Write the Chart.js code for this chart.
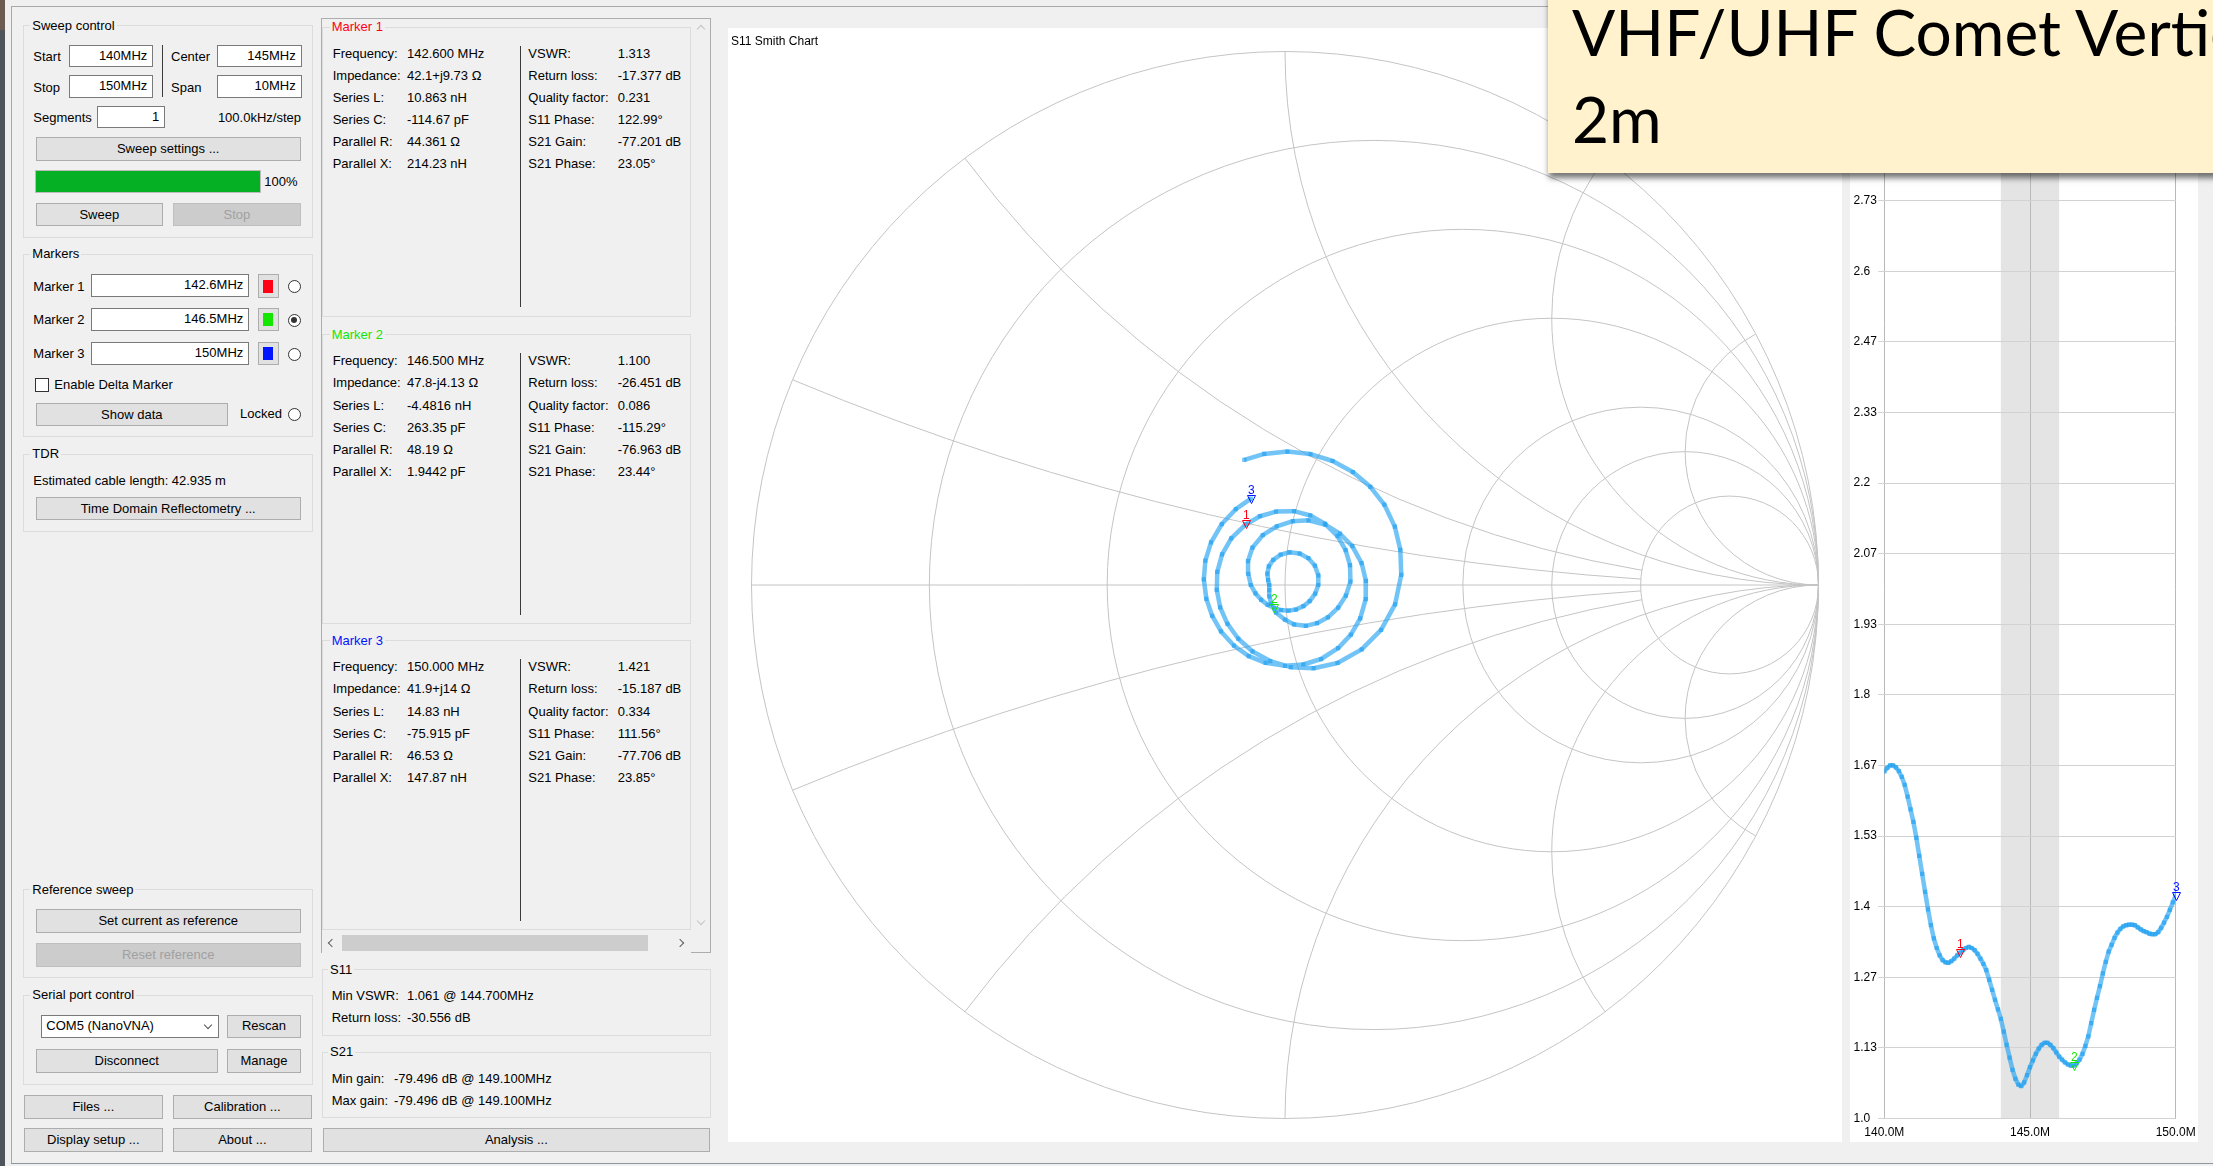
<!DOCTYPE html>
<html>
<head>
<meta charset="utf-8">
<title>NanoVNA-Saver</title>
<script src="https://cdn.jsdelivr.net/npm/chart.js@4.4.0/dist/chart.umd.min.js"></script>
<style>
  html, body { margin: 0; padding: 0; }
  body {
    position: relative; width: 2213px; height: 1166px; overflow: hidden;
    background: #f0f0f0; color: #000;
    font-family: "Liberation Sans", Arial, sans-serif; font-size: 13px;
  }
  #ui div { position: absolute; box-sizing: border-box; white-space: nowrap; }
  #ui .lbl { height: 16px; line-height: 16px; }
  #ui .grp { border: 1px solid #dcdcdc; }
  #ui .btn { background: #e1e1e1; border: 1px solid #adadad; text-align: center; }
  #ui .btn.off { background: #cccccc; border-color: #bfbfbf; color: #a0a0a0; }
  #ui .inp { background: #fff; border: 1px solid #7a7a7a; text-align: right; padding-right: 5px; }
  #ui .radio { border: 1px solid #333; border-radius: 50%; background: #fff; }
  canvas { position: absolute; background: #fff; }
  #note {
    position: absolute; left: 1548px; top: -10px; width: 720px; height: 183px;
    background: #fff2cc; box-shadow: 1px 5px 6px rgba(0, 0, 0, 0.55);
    font-family: Lato, "Open Sans", sans-serif; font-size: 64px; color: #000;
  }
  #note div { position: absolute; left: 24px; white-space: nowrap; line-height: 77px; }
</style>
</head>
<body>
<div id="ui"></div>
<canvas id="smith" width="1114" height="1114" style="left:728px;top:28px;"></canvas>
<canvas id="vswr" width="348" height="1114" style="left:1850px;top:28px;"></canvas>
<div id="note"><div style="top:3px;">VHF/UHF Comet Vertical</div><div style="top:90px;">2m</div></div>
<script>
// sweep: 140 - 150 MHz, 100 kHz/step
const freqMHz = [
  140.0, 140.1, 140.2, 140.3, 140.4, 140.5, 140.6, 140.7, 140.8, 140.9,
  141.0, 141.1, 141.2, 141.3, 141.4, 141.5, 141.6, 141.7, 141.8, 141.9,
  142.0, 142.1, 142.2, 142.3, 142.4, 142.5, 142.6, 142.7, 142.8, 142.9,
  143.0, 143.1, 143.2, 143.3, 143.4, 143.5, 143.6, 143.7, 143.8, 143.9,
  144.0, 144.1, 144.2, 144.3, 144.4, 144.5, 144.6, 144.7, 144.8, 144.9,
  145.0, 145.1, 145.2, 145.3, 145.4, 145.5, 145.6, 145.7, 145.8, 145.9,
  146.0, 146.1, 146.2, 146.3, 146.4, 146.5, 146.6, 146.7, 146.8, 146.9,
  147.0, 147.1, 147.2, 147.3, 147.4, 147.5, 147.6, 147.7, 147.8, 147.9,
  148.0, 148.1, 148.2, 148.3, 148.4, 148.5, 148.6, 148.7, 148.8, 148.9,
  149.0, 149.1, 149.2, 149.3, 149.4, 149.5, 149.6, 149.7, 149.8, 149.9,
  150.0
];

// S11 VSWR per sweep point
const vswr = [
  1.655, 1.662, 1.667, 1.667, 1.663, 1.656, 1.645, 1.630, 1.608, 1.584,
  1.560, 1.530, 1.496, 1.462, 1.428, 1.395, 1.365, 1.340, 1.322, 1.308,
  1.299, 1.295, 1.294, 1.297, 1.302, 1.308, 1.313, 1.318, 1.322, 1.324,
  1.322, 1.318, 1.311, 1.302, 1.292, 1.280, 1.262, 1.243, 1.224, 1.206,
  1.188, 1.164, 1.139, 1.115, 1.092, 1.075, 1.064, 1.061, 1.068, 1.082,
  1.097, 1.110, 1.122, 1.132, 1.139, 1.143, 1.143, 1.139, 1.133, 1.125,
  1.117, 1.111, 1.106, 1.102, 1.100, 1.100, 1.104, 1.111, 1.122, 1.137,
  1.155, 1.180, 1.205, 1.228, 1.250, 1.274, 1.296, 1.315, 1.328, 1.341,
  1.351, 1.358, 1.363, 1.365, 1.366, 1.366, 1.365, 1.361, 1.357, 1.354,
  1.352, 1.349, 1.348, 1.348, 1.352, 1.360, 1.370, 1.381, 1.394, 1.408,
  1.421
];

// S11 phase in degrees, unwrapped along the sweep
const s11PhaseDeg = [
  108, 99, 89, 79, 69, 59, 49, 39, 28, 17,
  5, -10, -25, -40, -56, -71, -86, -101, -116, -131,
  -146, -161, -176, -191, -206, -221, -237.01, -250, -263, -277,
  -290, -303, -317, -330, -343, -357, -370, -383, -397, -410,
  -423, -437, -450, -468, -486, -504, -522, -540, -556, -573,
  -589, -605, -622, -638, -655, -671, -687, -704, -720, -736,
  -753, -769, -786, -802, -819, -835.29, -851, -868, -884, -900,
  -917, -933, -949, -966, -982, -997, -1010, -1024, -1037, -1050,
  -1064, -1077, -1090, -1104, -1117, -1130, -1144, -1157, -1170, -1184,
  -1197, -1210, -1224, -1237, -1250, -1264, -1277, -1290, -1304, -1317,
  -1328.44
];

const markerFreqs = [142.6, 146.5, 150.0];
const markerColors = ['#ff0014', '#14e600', '#0014ff'];

const vswrTickLabels = ['1.0', '1.13', '1.27', '1.4', '1.53', '1.67', '1.8', '1.93',
  '2.07', '2.2', '2.33', '2.47', '2.6', '2.73', '2.87', '3.0'];
const freqTicks = [140, 145, 150];
const freqTickLabels = ['140.0M', '145.0M', '150.0M'];
const band2m = [144.0, 146.0];

// Smith chart grid: constant resistance circles, reactance arcs [x, start r]
const resistanceCircles = [0.2, 0.5, 1, 2, 3, 5];
const reactanceArcs = [[0.2, 5], [0.5, 5], [1, Infinity], [2, Infinity], [4, Infinity]];

// ---------- window widgets ----------
const ui = document.getElementById('ui');

function box(cls, x0, y0, x1, y1, text, css) {
  const d = document.createElement('div');
  d.className = cls;
  d.style.left = x0 + 'px';
  d.style.top = y0 + 'px';
  d.style.width = (x1 - x0) + 'px';
  d.style.height = (y1 - y0) + 'px';
  if (y1 - y0 > 4) d.style.lineHeight = (y1 - y0 - 2) + 'px';
  if (text) d.textContent = text;
  if (css) Object.assign(d.style, css);
  ui.appendChild(d);
  return d;
}

function label(text, x, yc, css) {
  const d = document.createElement('div');
  d.className = 'lbl';
  d.style.left = x + 'px';
  d.style.top = (yc - 8) + 'px';
  d.textContent = text;
  if (css) Object.assign(d.style, css);
  ui.appendChild(d);
  return d;
}

function group(title, x0, y0, x1, y1, titleX, color) {
  box('grp', x0, y0, x1, y1);
  label(title, titleX - 2, y0 + 0.5, { background: '#f0f0f0', padding: '0 2px', color: color || '#000' });
}

function button(text, x0, y0, x1, y1, disabled) {
  return box(disabled ? 'btn off' : 'btn', x0, y0, x1, y1, text);
}

function input(text, x0, y0, x1, y1) {
  return box('inp', x0, y0, x1, y1, text);
}

function radio(xc, yc, checked) {
  const r = box('radio', xc - 6.5, yc - 6.5, xc + 6.5, yc + 6.5);
  if (checked) {
    const dot = document.createElement('div');
    Object.assign(dot.style, { left: '2.5px', top: '2.5px', width: '6px', height: '6px', borderRadius: '50%', background: '#333' });
    r.appendChild(dot);
  }
}

function chevron(xc, yc, dir, color) {
  const rot = { down: 45, up: -135, left: 135, right: -45 }[dir];
  box('', xc - 3, yc - 3, xc + 3, yc + 3, null, {
    borderRight: '1.5px solid ' + color, borderBottom: '1.5px solid ' + color,
    transform: 'rotate(' + rot + 'deg)'
  });
}

// frame
box('', 0, 0, 5, 1166, null, { background: '#50555b' });
box('', 0, 0, 5, 30, null, { background: '#6b5d52' });
box('', 11, 6, 2213, 7, null, { background: '#a8a8a8' });
box('', 11, 6, 12, 1164, null, { background: '#a8a8a8' });
box('', 11, 1163, 2213, 1164, null, { background: '#8d97a1' });

// sweep control
group('Sweep control', 22.7, 25, 313.3, 237.5, 32.3);
label('Start', 33.3, 57.1);
input('140MHz', 69.3, 44.6, 153.3, 67.1);
box('', 162.2, 44.6, 163.4, 97.5, null, { background: '#3c3c3c' });
label('Center', 171, 57.1);
input('145MHz', 217.3, 44.6, 301.7, 67.1);
label('Stop', 33.3, 87.5);
input('150MHz', 69.3, 75, 153.3, 97.5);
label('Span', 171, 87.5);
input('10MHz', 217.3, 75, 301.7, 97.5);
label('Segments', 33.3, 117.9);
input('1', 96.7, 105.7, 165.3, 127.9);
label('100.0kHz/step', 301, 117.9, { transform: 'translateX(-100%)' });
button('Sweep settings ...', 35.7, 136.8, 300.7, 160.7);
box('', 34.7, 169.6, 260.7, 193.2, null, { border: '1px solid #bcbcbc', background: '#e6e6e6' });
box('', 35.7, 170.6, 259.7, 192.2, null, { background: '#06b025' });
label('100%', 264.3, 182.1);
button('Sweep', 35.7, 202.5, 163, 226.1);
button('Stop', 173, 202.5, 300.7, 226.1, true);

// markers
group('Markers', 22.7, 253.6, 313.3, 437.5, 32.3);
const markerInputs = ['142.6MHz', '146.5MHz', '150MHz'];
[286.8, 320.4, 354.3].forEach((yc, k) => {
  label('Marker ' + (k + 1), 33.3, yc);
  input(markerInputs[k], 90.7, yc - 12.5, 249.3, yc + 10.3);
  box('btn', 257.7, yc - 12.5, 278.7, yc + 11.1);
  box('', 263, yc - 7.2, 273.3, yc + 6.1, null, { background: markerColors[k] });
  radio(294, yc, k === 1);
});
box('', 34.7, 377.5, 48.7, 391.5, null, { border: '1px solid #333', background: '#fff' });
label('Enable Delta Marker', 54.3, 384.6);
button('Show data', 35.7, 402.5, 228, 426.1);
label('Locked', 240, 414.3);
radio(294, 414.3, false);

// TDR
group('TDR', 22.7, 453.9, 313.3, 532.1, 32.3);
label('Estimated cable length:', 33.3, 481.1);
label('42.935 m', 171.7, 481.1);
button('Time Domain Reflectometry ...', 35.7, 497.1, 300.7, 520.4);

// reference sweep / serial port / bottom buttons
group('Reference sweep', 22.7, 889, 313.3, 978.2, 32.3);
button('Set current as reference', 35.7, 909.4, 300.7, 933);
button('Reset reference', 35.7, 943.1, 300.7, 966.7, true);
group('Serial port control', 22.7, 994.5, 313.3, 1084.5, 32.3);
box('inp', 41.3, 1015.4, 219, 1037.8, 'COM5 (NanoVNA)', { textAlign: 'left', paddingLeft: '4px' });
chevron(208.3, 1024.5, 'down', '#555');
button('Rescan', 227.3, 1015.4, 300.7, 1037.8);
button('Disconnect', 35.7, 1049.4, 217.7, 1073);
button('Manage', 227.3, 1049.4, 300.7, 1073);
button('Files ...', 23.7, 1094.6, 163, 1118.6);
button('Calibration ...', 172.7, 1094.6, 312, 1118.6);
button('Display setup ...', 23.7, 1128.2, 163, 1152.2);
button('About ...', 172.7, 1128.2, 312, 1152.2);

// marker readouts
const wrapDeg = (p) => ((p % 360) + 540) % 360 - 180;
const markerPanels = [
  { top: 26.8,
    left: [['Impedance:', '42.1+j9.73 Ω'], ['Series L:', '10.863 nH'], ['Series C:', '-114.67 pF'],
           ['Parallel R:', '44.361 Ω'], ['Parallel X:', '214.23 nH']],
    right: [['Return loss:', '-17.377 dB'], ['Quality factor:', '0.231']],
    s21: [['S21 Gain:', '-77.201 dB'], ['S21 Phase:', '23.05°']] },
  { top: 334.3,
    left: [['Impedance:', '47.8-j4.13 Ω'], ['Series L:', '-4.4816 nH'], ['Series C:', '263.35 pF'],
           ['Parallel R:', '48.19 Ω'], ['Parallel X:', '1.9442 pF']],
    right: [['Return loss:', '-26.451 dB'], ['Quality factor:', '0.086']],
    s21: [['S21 Gain:', '-76.963 dB'], ['S21 Phase:', '23.44°']] },
  { top: 640.4,
    left: [['Impedance:', '41.9+j14 Ω'], ['Series L:', '14.83 nH'], ['Series C:', '-75.915 pF'],
           ['Parallel R:', '46.53 Ω'], ['Parallel X:', '147.87 nH']],
    right: [['Return loss:', '-15.187 dB'], ['Quality factor:', '0.334']],
    s21: [['S21 Gain:', '-77.706 dB'], ['S21 Phase:', '23.85°']] },
];

box('', 321, 17.9, 711, 953.5, null, { border: '1px solid #adadad' });
markerPanels.forEach((m, k) => {
  const idx = freqMHz.indexOf(markerFreqs[k]);
  const T = m.top;
  group('Marker ' + (k + 1), 321.7, T, 691, T + 290, 331.7, markerColors[k]);
  const leftRows = [['Frequency:', freqMHz[idx].toFixed(3) + ' MHz']].concat(m.left);
  const rightRows = [['VSWR:', vswr[idx].toFixed(3)]].concat(m.right,
    [['S11 Phase:', wrapDeg(s11PhaseDeg[idx]).toFixed(2) + '°']], m.s21);
  leftRows.forEach((r, i) => {
    const yc = T + 26.9 + i * 22.15;
    label(r[0], 332.7, yc);
    label(r[1], 407, yc);
  });
  rightRows.forEach((r, i) => {
    const yc = T + 26.9 + i * 22.15;
    label(r[0], 528.3, yc);
    label(r[1], 617.7, yc);
  });
  box('', 519.5, T + 19, 520.7, T + 280.5, null, { background: '#3a3a3a' });
});
// scroll bars
box('', 322, 932, 691, 952.5, null, { background: '#f0f0f0' });
box('', 341.7, 935, 647.7, 951.2, null, { background: '#cdcdcd' });
chevron(332, 943, 'left', '#606060');
chevron(680, 943, 'right', '#606060');
chevron(700.7, 29, 'up', '#c4c4c4');
chevron(700.7, 921, 'down', '#c4c4c4');

group('S11', 321.7, 969, 711, 1035.5, 330);
label('Min VSWR:', 331.7, 996);
label('1.061 @ 144.700MHz', 407, 996);
label('Return loss:', 331.7, 1018.4);
label('-30.556 dB', 407, 1018.4);
group('S21', 321.7, 1051.7, 711, 1117.8, 330);
label('Min gain:', 331.7, 1079.1);
label('-79.496 dB @ 149.100MHz', 394, 1079.1);
label('Max gain:', 331.7, 1101.2);
label('-79.496 dB @ 149.100MHz', 394, 1101.2);
button('Analysis ...', 322.7, 1128.2, 710, 1152.2);

// ---------- charts ----------
Chart.defaults.font.family = '"Liberation Sans", Arial, sans-serif';
Chart.defaults.color = '#000';

const traceColor = 'rgba(28, 158, 240, 0.62)';

function traceDataset(data) {
  return {
    data,
    showLine: true,
    borderColor: traceColor,
    borderWidth: 4.5,
    borderJoinStyle: 'bevel',
    pointStyle: 'rect',
    pointRadius: 3,
    pointBackgroundColor: traceColor,
    pointBorderWidth: 0,
    tension: 0,
  };
}

function titlePlugin(text) {
  return {
    id: 'chartTitle',
    afterDraw(chart) {
      const ctx = chart.ctx;
      ctx.save();
      ctx.font = '12px "Liberation Sans", Arial, sans-serif';
      ctx.fillStyle = '#000';
      ctx.fillText(text, 3, 17);
      ctx.restore();
    }
  };
}

function markerPlugin(id) {
  return {
    id,
    afterDatasetsDraw(chart) {
      const ctx = chart.ctx;
      const pts = chart.getDatasetMeta(0).data;
      ctx.save();
      ctx.lineWidth = 1;
      ctx.font = '12px "Liberation Sans", Arial, sans-serif';
      markerFreqs.forEach((f, k) => {
        const p = pts[freqMHz.indexOf(f)];
        const x = Math.round(p.x) + 0.5;
        const y = Math.round(p.y) + 0.5;
        ctx.strokeStyle = markerColors[k];
        ctx.fillStyle = markerColors[k];
        ctx.beginPath();
        ctx.moveTo(x - 4, y - 4);
        ctx.lineTo(x + 4, y - 4);
        ctx.lineTo(x, y + 4);
        ctx.closePath();
        ctx.stroke();
        ctx.fillText(String(k + 1), x - 3.5, y - 6);
      });
      ctx.restore();
    }
  };
}

// reflection coefficient from VSWR magnitude and S11 phase
const s11 = freqMHz.map((f, i) => {
  const mag = (vswr[i] - 1) / (vswr[i] + 1);
  const a = s11PhaseDeg[i] * Math.PI / 180;
  return { x: mag * Math.cos(a), y: mag * Math.sin(a) };
});

function gammaOf(r, x) {
  const den = (r + 1) * (r + 1) + x * x;
  return { re: (r * r - 1 + x * x) / den, im: 2 * x / den };
}

const smithGrid = {
  id: 'smithGrid',
  beforeDatasetsDraw(chart) {
    const { ctx, scales: { x, y } } = chart;
    const px = (v) => x.getPixelForValue(v);
    const py = (v) => y.getPixelForValue(v);
    const unit = px(1) - px(0);
    ctx.save();
    ctx.strokeStyle = '#c4c4c4';
    ctx.lineWidth = 1;
    ctx.beginPath();
    ctx.arc(px(0), py(0), unit, 0, 2 * Math.PI);
    ctx.stroke();
    ctx.beginPath();
    ctx.moveTo(px(-1), py(0));
    ctx.lineTo(px(1), py(0));
    ctx.stroke();
    resistanceCircles.forEach((r) => {
      ctx.beginPath();
      ctx.arc(px(r / (r + 1)), py(0), unit / (r + 1), 0, 2 * Math.PI);
      ctx.stroke();
    });
    reactanceArcs.forEach(([xv, rFrom]) => {
      [xv, -xv].forEach((xs) => {
        const cy = 1 / xs;
        const ang = (r) => {
          const g = gammaOf(r, xs);
          return Math.atan2(-(g.im - cy), g.re - 1);
        };
        const a0 = rFrom === Infinity ? (xs > 0 ? Math.PI / 2 : -Math.PI / 2) : ang(rFrom);
        ctx.beginPath();
        ctx.arc(px(1), py(cy), unit * Math.abs(cy), a0, ang(0), xs < 0);
        ctx.stroke();
      });
    });
    ctx.restore();
  }
};

new Chart(document.getElementById('smith'), {
  type: 'scatter',
  data: { datasets: [traceDataset(s11)] },
  options: {
    responsive: false,
    animation: false,
    devicePixelRatio: 1,
    events: [],
    layout: { padding: 23.5 },
    plugins: { legend: { display: false }, tooltip: { enabled: false } },
    scales: {
      x: { type: 'linear', min: -1, max: 1, display: false },
      y: { type: 'linear', min: -1, max: 1, display: false },
    },
  },
  plugins: [smithGrid, markerPlugin('smithMarkers'), titlePlugin('S11 Smith Chart')],
});

const bandPlugin = {
  id: 'band2m',
  beforeDraw(chart) {
    const { ctx, chartArea, scales: { x } } = chart;
    const x0 = x.getPixelForValue(band2m[0]);
    const x1 = x.getPixelForValue(band2m[1]);
    ctx.save();
    ctx.fillStyle = '#e4e4e4';
    ctx.fillRect(x0, chartArea.top, x1 - x0, chartArea.bottom - chartArea.top);
    ctx.restore();
  }
};

new Chart(document.getElementById('vswr'), {
  type: 'line',
  data: { datasets: [traceDataset(freqMHz.map((f, i) => ({ x: f, y: vswr[i] })))] },
  options: {
    responsive: false,
    animation: false,
    devicePixelRatio: 1,
    events: [],
    layout: { padding: { left: 3.5, right: 22.3, top: 31.5, bottom: 0 } },
    plugins: { legend: { display: false }, tooltip: { enabled: false } },
    scales: {
      x: {
        type: 'linear', min: 140, max: 150,
        afterBuildTicks: (s) => { s.ticks = freqTicks.map((v) => ({ value: v })); },
        afterFit: (s) => { s.height = 23.5; s.paddingLeft = 0; s.paddingRight = 0; },
        grid: { color: '#b9b9b9', drawTicks: false },
        border: { display: false },
        ticks: { padding: 7, maxRotation: 0, font: { size: 12 }, callback: (v, i) => freqTickLabels[i] },
      },
      y: {
        type: 'linear', min: 1, max: 3,
        afterBuildTicks: (s) => {
          s.ticks = vswrTickLabels.map((t, i) => ({ value: 1 + i * 2 / (vswrTickLabels.length - 1) }));
        },
        afterFit: (s) => { s.width = 30.8; s.paddingTop = 0; s.paddingBottom = 0; },
        grid: { color: '#d2d2d2', tickLength: 6 },
        border: { display: false },
        ticks: { crossAlign: 'far', autoSkip: false, font: { size: 12 }, callback: (v, i) => vswrTickLabels[i] },
      },
    },
  },
  plugins: [bandPlugin, markerPlugin('vswrMarkers'), titlePlugin('S11 VSWR')],
});
</script>
</body>
</html>
